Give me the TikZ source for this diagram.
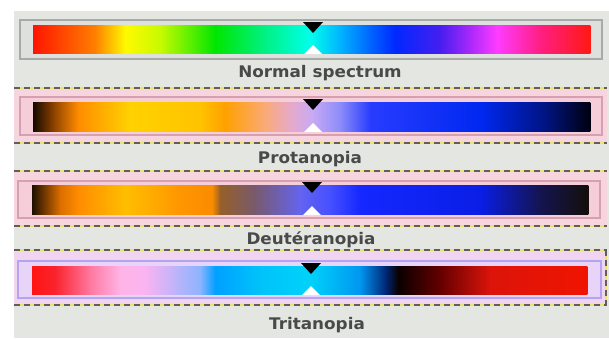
\documentclass[tikz,border=0pt]{standalone}
\usepackage{fontspec}
\newfontfamily\labfont[FakeStretch=1.05]{DejaVu Sans Bold}
\definecolor{bg}{RGB}{228,230,226}
\definecolor{txt}{RGB}{72,74,72}
\definecolor{pinkpanel}{RGB}{247,213,222}
\definecolor{pinkframe}{RGB}{214,160,176}
\definecolor{pinkin}{RGB}{245,206,218}
\definecolor{lavpanel}{RGB}{240,212,240}
\definecolor{lavframe}{RGB}{180,164,240}
\definecolor{lavin}{RGB}{232,212,248}
\definecolor{dashyel}{RGB}{240,226,110}
\definecolor{dashgray}{RGB}{96,96,90}
% normal
\definecolor{N0}{RGB}{255,20,0}\definecolor{N1}{RGB}{255,128,0}\definecolor{N2}{RGB}{255,250,0}
\definecolor{N3}{RGB}{200,250,0}\definecolor{N4}{RGB}{0,230,0}\definecolor{N5}{RGB}{0,240,120}
\definecolor{N6}{RGB}{0,255,235}\definecolor{N7}{RGB}{0,180,255}\definecolor{N8}{RGB}{0,100,255}
\definecolor{N9}{RGB}{0,40,255}\definecolor{N10}{RGB}{70,30,240}\definecolor{N11}{RGB}{170,40,250}
\definecolor{N12}{RGB}{255,60,255}\definecolor{N13}{RGB}{255,30,130}\definecolor{N14}{RGB}{255,25,20}
% protanopia
\definecolor{P0}{RGB}{20,10,0}\definecolor{P1}{RGB}{150,70,0}\definecolor{P2}{RGB}{255,140,0}
\definecolor{P3}{RGB}{255,210,0}\definecolor{P4}{RGB}{255,195,0}\definecolor{P5}{RGB}{255,160,0}
\definecolor{P6}{RGB}{250,170,120}\definecolor{P7}{RGB}{230,170,200}\definecolor{P8}{RGB}{200,170,245}
\definecolor{P9}{RGB}{140,140,250}\definecolor{P10}{RGB}{40,60,255}\definecolor{P11}{RGB}{0,40,240}
\definecolor{P12}{RGB}{0,20,130}\definecolor{P13}{RGB}{0,0,15}
% deuteranopia
\definecolor{D0}{RGB}{30,15,0}\definecolor{D1}{RGB}{220,110,0}\definecolor{D2}{RGB}{255,140,0}
\definecolor{D3}{RGB}{255,190,0}\definecolor{D4}{RGB}{255,150,0}\definecolor{D5}{RGB}{250,140,0}
\definecolor{D6}{RGB}{150,95,40}\definecolor{D7}{RGB}{120,90,110}\definecolor{D8}{RGB}{100,100,240}
\definecolor{D9}{RGB}{70,80,255}\definecolor{D10}{RGB}{20,40,255}\definecolor{D11}{RGB}{10,30,230}
\definecolor{D12}{RGB}{20,20,80}\definecolor{D13}{RGB}{20,15,10}
% tritanopia
\definecolor{T0}{RGB}{255,20,20}\definecolor{T1}{RGB}{250,35,45}\definecolor{T2}{RGB}{255,120,160}
\definecolor{T3}{RGB}{255,180,230}\definecolor{T4}{RGB}{250,180,240}\definecolor{T5}{RGB}{190,180,250}
\definecolor{T6}{RGB}{140,180,255}\definecolor{T7}{RGB}{0,160,255}\definecolor{T8}{RGB}{0,195,250}
\definecolor{T9}{RGB}{0,210,250}\definecolor{T10}{RGB}{0,150,240}\definecolor{T11}{RGB}{0,40,120}
\definecolor{T12}{RGB}{10,0,0}\definecolor{T13}{RGB}{100,0,0}\definecolor{T14}{RGB}{220,20,10}
\definecolor{T15}{RGB}{240,20,0}
\newcommand\gradbar[5]{% y1 y2 x0 c0 list
  \foreach \xx/\cc [remember=\xx as \lx (initially #3), remember=\cc as \lc (initially #4)] in {#5}{
    \shade[left color=\lc, right color=\cc] (\lx,#1) rectangle (\xx+0.4,#2);
  }}
\newcommand\marker[3]{% x top bottom
  \fill[black] (#1-10,#2-3) -- (#1+10,#2-3) -- (#1,#2+8) -- cycle;
  \fill[white] (#1-9,#3+1) -- (#1+9,#3+1) -- (#1,#3-8) -- cycle;}
\tikzset{
  lab/.style={font=\labfont\fontsize{16}{18}\selectfont, text=txt, anchor=base, inner sep=0pt},
  ydash/.style={dashgray, line width=1.4pt, dash pattern=on 6pt off 4pt},
  ybase/.style={dashyel, line width=1.4pt},
}
\begin{document}
\begin{tikzpicture}[x=1pt,y=-1pt]
\useasboundingbox (0,0) rectangle (609,338);
\fill[white] (0,0) rectangle (609,338);
\fill[bg] (14,11) rectangle (609,338);
% panels
\fill[pinkpanel] (14,88) rectangle (607,143);
\fill[pinkpanel] (14,171) rectangle (607,226);
\fill[lavpanel] (14,250) rectangle (606,305);
% frames
\draw[fill={rgb,255:red,222;green,224;blue,222}, draw={rgb,255:red,168;green,170;blue,168}, line width=1.8pt] (20,20) rectangle (602,59);
\draw[fill=pinkin, draw=pinkframe, line width=1.6pt] (20,97) rectangle (602,135);
\draw[fill=pinkin, draw=pinkframe, line width=1.6pt] (18,181) rectangle (600,218);
\draw[fill=lavin, draw=lavframe, line width=1.6pt] (18,261) rectangle (601,298);
% dashed separators
\foreach \yy in {88,143,171,226,250,305}{
  \draw[ybase] (14,\yy) -- (607,\yy);
  \draw[ydash] (14,\yy) -- (607,\yy);
}
\draw[ybase] (606,250) -- (606,305);
\draw[ydash] (606,250) -- (606,305);
% bars
\gradbar{25}{53}{33}{N0}{95/N1,125/N2,160/N3,215/N4,260/N5,310/N6,340/N7,370/N8,395/N9,440/N10,470/N11,497/N12,540/N13,590/N14}
\gradbar{102}{131}{33}{P0}{55/P1,78/P2,130/P3,200/P4,225/P5,265/P6,290/P7,312/P8,340/P9,370/P10,480/P11,545/P12,590/P13}
\gradbar{185}{214}{32}{D0}{60/D1,78/D2,125/D3,180/D4,212/D5,220/D6,255/D7,300/D8,330/D9,360/D10,480/D11,540/D12,588/D13}
\gradbar{266}{294}{32}{T0}{55/T1,90/T2,120/T3,145/T4,175/T5,200/T6,215/T7,260/T8,310/T9,360/T10,385/T11,398/T12,440/T13,490/T14,587/T15}
% markers
\marker{313}{25}{53}
\marker{313}{102}{131}
\marker{312}{185}{214}
\marker{311}{266}{294}
% labels
\node[lab] (normal) at (320,77) {Normal spectrum};
\node[lab] (prot) at (310,163) {Protanopia};
\node[lab] (deut) at (311,244) {Deutéranopia};
\node[lab] (trit) at (317,329) {Tritanopia};
\end{tikzpicture}
\end{document}
